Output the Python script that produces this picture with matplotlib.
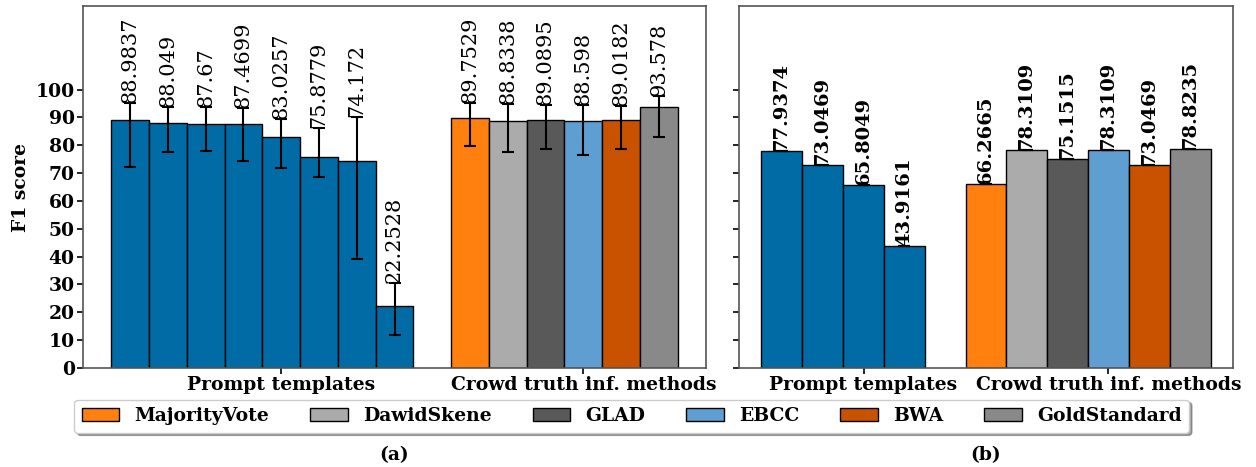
import matplotlib
matplotlib.use("Agg")
import matplotlib.pyplot as plt
import numpy as np

plt.rcParams['font.family'] = ['DejaVu Serif']

# ---- data ----
methods = ["MajorityVote", "DawidSkene", "GLAD", "EBCC", "BWA", "GoldStandard"]
method_colors = ["#FF800E", "#ABABAB", "#595959", "#5F9ED1", "#C85200", "#898989"]
prompt_color = "#006BA4"
group_labels = ["Prompt templates", "Crowd truth inf. methods"]

a_prompt = [88.9837, 88.049, 87.67, 87.4699, 83.0257, 75.8779, 74.172, 22.2528]
a_prompt_hi = [95.3, 93.9, 93.8, 93.3, 89.5, 86.1, 90.3, 30.5]
a_prompt_lo = [72.1, 77.5, 78.0, 74.3, 72.0, 68.5, 39.3, 12.0]
a_crowd = [89.7529, 88.8338, 89.0895, 88.598, 89.0182, 93.578]
a_crowd_hi = [95.3, 94.7, 94.4, 94.4, 94.1, 97.8]
a_crowd_lo = [79.6, 77.6, 78.8, 76.4, 78.8, 83.0]

b_prompt = [77.9374, 73.0469, 65.8049, 43.9161]
b_crowd = [66.2665, 78.3109, 75.1515, 78.3109, 73.0469, 78.8235]

yticks = list(range(0, 101, 10))

FS = 13.5

fig = plt.figure(figsize=(12.56, 4.67), dpi=100)
ax1 = fig.add_axes([0.0661, 0.212, 0.496, 0.775])
ax2 = fig.add_axes([0.5884, 0.212, 0.3933, 0.775])


def draw(ax, prompt, crowd, p_hi=None, p_lo=None, c_hi=None, c_lo=None,
         label_bold=False, label_fs=15):
    n_p = len(prompt)
    xp = np.arange(n_p)
    xc = np.arange(len(crowd)) + n_p + 1
    vals = list(prompt) + list(crowd)
    xs = list(xp) + list(xc)
    if p_hi is not None:
        hi = list(p_hi) + list(c_hi)
        lo = list(p_lo) + list(c_lo)
    else:
        hi = vals
        lo = vals
    err = np.array([[v - l for v, l in zip(vals, lo)], [h - v for v, h in zip(vals, hi)]])
    colors = [prompt_color] * n_p + method_colors
    handles = []
    for i, (x, v, c) in enumerate(zip(xs, vals, colors)):
        lab = methods[i - n_p] if i >= n_p else None
        b = ax.bar(x, v, width=1.0, color=c, edgecolor='black', linewidth=1.0, label=lab, zorder=2)
        if lab:
            handles.append(b)
    ax.errorbar(xs, vals, yerr=err, fmt='none', ecolor='black', elinewidth=1.5,
                capsize=4.5, capthick=1.5, zorder=3)
    for x, v, h in zip(xs, vals, hi):
        ax.text(x, h, f"{v:g}", rotation=90, ha='center', va='bottom', fontsize=label_fs,
                fontweight='bold' if label_bold else 'normal', zorder=4)
    ax.set_xticks([n_p / 2, n_p + 1 + len(crowd) / 2])
    ax.set_xticklabels(group_labels, fontsize=FS, fontweight='bold')
    ax.set_ylim(0, 130)
    ax.set_yticks(yticks)
    for s in ax.spines.values():
        s.set_color('#555555')
        s.set_linewidth(1.2)
    ax.tick_params(axis='both', length=4, width=1.2, pad=2)
    return handles


handles = draw(ax1, a_prompt, a_crowd, a_prompt_hi, a_prompt_lo, a_crowd_hi, a_crowd_lo,
               label_bold=False, label_fs=15)
draw(ax2, b_prompt, b_crowd, label_bold=True, label_fs=14)

ax1.set_yticklabels([str(t) for t in yticks], fontsize=FS, fontweight='bold')
ax1.set_ylabel("F1 score", fontsize=FS, fontweight='bold', labelpad=4)
ax2.set_yticklabels([])

leg = fig.legend(handles=handles, labels=methods, loc='center', bbox_to_anchor=(0.503, 0.109),
                 ncol=6, shadow=True, fancybox=True, prop={'weight': 'bold', 'size': FS},
                 columnspacing=2.2, handletextpad=0.8, borderpad=0.4)

fig.text(0.0661 + 0.496 / 2, 0.025, "(a)", ha='center', va='center', fontsize=FS, fontweight='bold')
fig.text(0.5884 + 0.3933 / 2, 0.025, "(b)", ha='center', va='center', fontsize=FS, fontweight='bold')

fig.savefig("out.png", dpi=100)
